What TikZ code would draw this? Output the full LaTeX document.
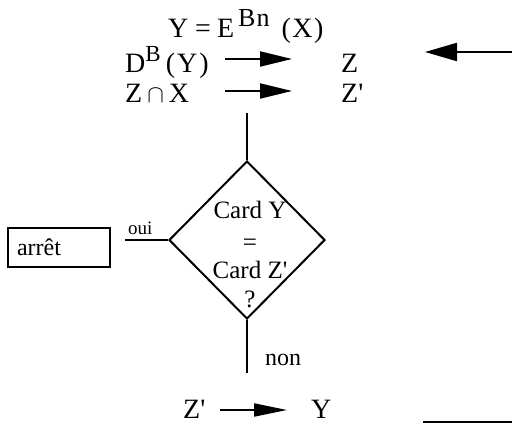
\documentclass[tikz,border=0pt]{standalone}
\usepackage{fontspec}
\setmainfont{Liberation Serif}
\usetikzlibrary{arrows.meta,shapes.geometric}
\begin{document}
\begin{tikzpicture}[x=1pt,y=-1pt,
  txt/.style={anchor=base west,inner sep=0pt,font=\fontsize{28}{32}\selectfont},
  ctxt/.style={anchor=base,inner sep=0pt,font=\fontsize{25}{30}\selectfont},
  ln/.style={line width=2pt},
  arr/.style={line width=2pt,-{Triangle[length=32pt,width=15pt]}},
  barr/.style={line width=2pt,-{Triangle[length=32pt,width=18pt]}}]
\useasboundingbox (0,0) rectangle (512,431);
% top formulas
\node[txt] (eq) at (168,37) {Y\hspace{6.8pt}=\hspace{6.2pt}E\hspace{3.9pt}\raisebox{10pt}{\fontsize{26}{28}\selectfont B\kern1pt n}\hspace{12pt}(\kern1.5pt X\kern1.5pt)};
\node[txt] (dby) at (125,72) {D\raisebox{11pt}{\fontsize{23}{25}\selectfont B}\hspace{5pt}(\kern2pt Y\kern2pt)};
\node[txt] (z) at (341,72) {Z};
\node[txt] (zx) at (125,102) {Z\hspace{5pt}{\fontsize{32}{32}\selectfont$\cap$}\hspace{5pt}X};
\node[txt] (zp) at (341,102) {Z\textquotesingle};
\coordinate (a1s) at (225,59);
\coordinate (a1e) at (292,59);
\coordinate (a2s) at (225,91);
\coordinate (a2e) at (292,91);
\draw[arr] (a1s) -- (a1e);
\draw[arr] (a2s) -- (a2e);
\coordinate (ra) at (512,52);
\coordinate (rb) at (425,52);
\draw[barr] (ra) -- (rb);
% diamond
\node[draw,diamond,line width=2pt,inner sep=0pt,minimum width=156pt,minimum height=158pt] (dia) at (247,240) {};
\node[ctxt] (c1) at (250,218) {Card Y};
\node[ctxt] (c2) at (250,250) {=};
\node[ctxt] (c3) at (250,278) {Card Z\textquotesingle};
\node[ctxt] (c4) at (250,307) {?};
\coordinate (vt) at (247,113);
\draw[ln] (vt) -- (dia.north);
% oui / arret
\coordinate (ouiend) at (125,240);
\draw[ln] (dia.west) -- (ouiend);
\node[anchor=base west,inner sep=0pt,font=\fontsize{19}{22}\selectfont] (oui) at (128,234) {oui};
\node[draw,line width=1.8pt,minimum height=39pt,text width=84pt,inner xsep=9pt,align=left,font=\fontsize{24}{28}\selectfont] (arret) at (59,247.5) {arrêt};
% non
\coordinate (vb) at (247,373);
\draw[ln] (dia.south) -- (vb);
\node[anchor=base west,inner sep=0pt,font=\fontsize{24}{28}\selectfont] (non) at (265,365) {non};
% bottom
\node[txt] (bz) at (183,418) {Z\textquotesingle};
\node[txt] (by) at (311,418) {Y};
\coordinate (a3s) at (220,410);
\coordinate (a3e) at (287,410);
\draw[line width=2pt,-{Triangle[length=33pt,width=13pt]}] (a3s) -- (a3e);
\coordinate (bl1) at (423,422);
\coordinate (bl2) at (512,422);
\draw[ln] (bl1) -- (bl2);
\end{tikzpicture}
\end{document}
